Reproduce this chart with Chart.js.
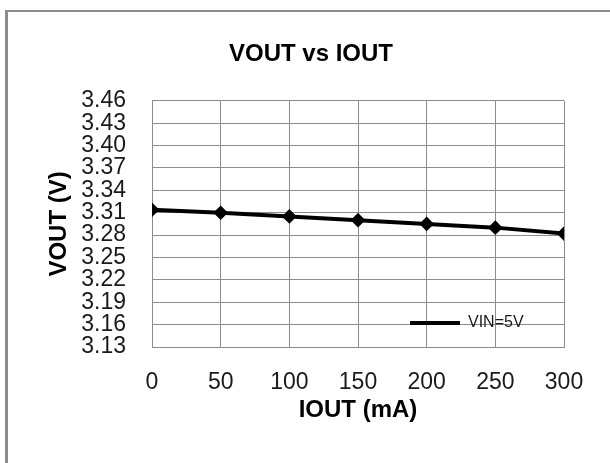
<!DOCTYPE html>
<html>
<head>
<meta charset="utf-8">
<script src="https://cdn.jsdelivr.net/npm/chart.js@4/dist/chart.umd.min.js"></script>
<style>
  html, body { margin: 0; padding: 0; background: #fff; overflow: hidden; }
  #wrap { position: relative; width: 610px; height: 463px; }
  #frame { position: absolute; left: 5px; top: 10px; width: 700px; height: 600px;
           border-top: 2px solid #8c8c8c; border-left: 3px solid #8c8c8c; }
  #chart { position: absolute; left: 0; top: 0; }
</style>
</head>
<body>
<div id="wrap">
  <div id="frame"></div>
  <canvas id="chart" width="610" height="463"></canvas>
</div>
<script>
const iout = [0, 50, 100, 150, 200, 250, 300];
const vout = [3.314, 3.310, 3.305, 3.300, 3.295, 3.290, 3.282];
const yTicks = [3.13, 3.16, 3.19, 3.22, 3.25, 3.28, 3.31, 3.34, 3.37, 3.40, 3.43, 3.46];
const seriesName = 'VIN=5V';

const gridColor = '#8c8c8c';
const fontFamily = '"Liberation Sans", Arial, sans-serif';
const tickFont = { family: fontFamily, size: 23 };
const titleFont = { family: fontFamily, size: 24, weight: 'bold' };

// move the legend inside the plot, lower right
const legendInside = {
    id: 'legendInside',
    beforeDraw(chart) {
        const lg = chart.legend;
        lg.left = 400;
        lg.right = 560;
        lg.top = 305;
        lg.bottom = 345;
        lg.width = lg.right - lg.left;
        lg.height = lg.bottom - lg.top;
    }
};

new Chart(document.getElementById('chart'), {
    type: 'line',
    data: {
        datasets: [{
            label: seriesName,
            data: iout.map((x, i) => ({ x: x, y: vout[i] })),
            borderColor: '#000',
            backgroundColor: '#000',
            borderWidth: 4,
            pointStyle: 'rectRot',
            pointRadius: 4.5,
            pointBorderWidth: 4,
            tension: 0
        }]
    },
    options: {
        responsive: false,
        animation: false,
        layout: { padding: { left: 58, right: 46, top: 0, bottom: 0 } },
        scales: {
            x: {
                type: 'linear',
                min: 0,
                max: 300,
                ticks: { stepSize: 50, font: tickFont, color: '#1a1a1a', padding: 22, maxRotation: 0 },
                grid: { color: gridColor, drawTicks: false },
                border: { color: gridColor },
                title: { display: true, text: 'IOUT (mA)', font: titleFont, color: '#000',
                         padding: { top: 0, bottom: 37 } },
                afterFit(scale) { scale.height = 116 - scale.chart.legend.height; }
            },
            y: {
                min: 3.13,
                max: 3.46,
                afterBuildTicks(scale) { scale.ticks = yTicks.map(v => ({ value: v })); },
                ticks: { font: tickFont, color: '#1a1a1a', padding: 26, autoSkip: false,
                         callback: v => Number(v).toFixed(2) },
                grid: { color: gridColor, drawTicks: false },
                border: { color: gridColor },
                title: { display: true, text: 'VOUT (V)', font: titleFont, color: '#000',
                         padding: { top: -13, bottom: 0 } },
                afterFit(scale) { scale.width = 94; }
            }
        },
        plugins: {
            title: {
                display: true,
                text: 'VOUT vs IOUT',
                font: titleFont,
                color: '#000',
                padding: { top: 40, bottom: 32 }
            },
            legend: {
                position: 'bottom',
                align: 'start',
                maxHeight: 1,
                labels: {
                    usePointStyle: true,
                    pointStyle: 'line',
                    pointStyleWidth: 50,
                    boxHeight: 16,
                    color: '#1a1a1a',
                    font: { family: fontFamily, size: 16 }
                }
            },
            tooltip: { enabled: false }
        }
    },
    plugins: [legendInside]
});
</script>
</body>
</html>
